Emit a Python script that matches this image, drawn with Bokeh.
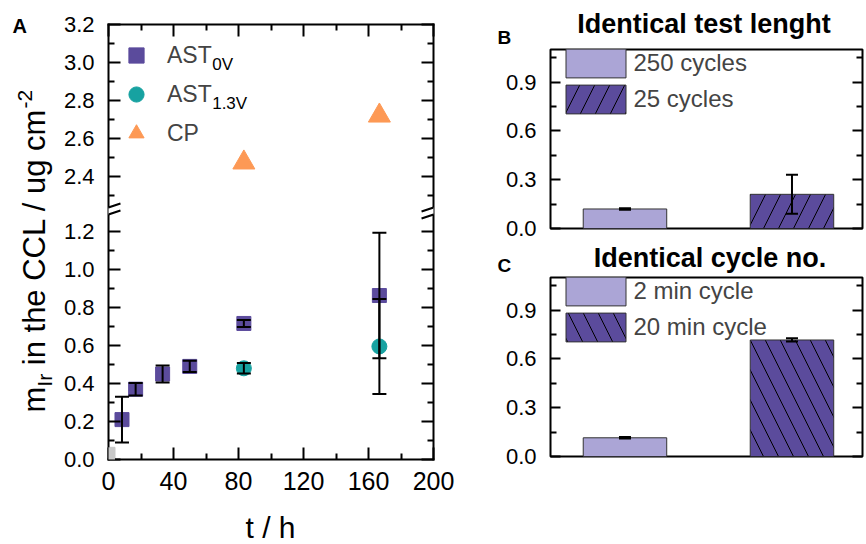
import math
from bokeh.plotting import figure
from bokeh.models import (Range1d, LinearAxis, FixedTicker, CustomJSTickFormatter,
                          PrintfTickFormatter, ColumnDataSource, Whisker, TeeHead, Label,
                          Legend, LegendItem, PolyAnnotation, Arrow)
from bokeh.layouts import row, column
from bokeh.embed import file_html
from bokeh.resources import INLINE

FONT = "Liberation Sans"
PURPLE = "#5B4B9C"
LIGHT = "#ABA5D6"
TEAL = "#17A2A1"
ORANGE = "#FD9955"
GREY = "#C8C8C8"

# ---------------- data: panel A ----------------
t_ast0v = [8.3, 16.7, 33.3, 50.0, 83.3, 166.7]
m_ast0v = [0.21, 0.37, 0.45, 0.49, 0.716, 0.863]
e_ast0v = [0.12, 0.033, 0.045, 0.03, 0.018, 0.33]
t_ast13 = [83.3, 166.7]
m_ast13 = [0.48, 0.595]
e_ast13 = [0.028, 0.25]
t_cp = [83.3, 166.7]
m_cp = [2.473, 2.72]
t_pristine = [0.0]
m_pristine = [0.03]

x_ticks_A = [0, 40, 80, 120, 160, 200]
x_minor_A = [20, 60, 100, 140, 180]
y_ticks_low = [0.0, 0.2, 0.4, 0.6, 0.8, 1.0, 1.2]
y_minor_low = [0.1, 0.3, 0.5, 0.7, 0.9, 1.1]
y_ticks_up = [2.4, 2.6, 2.8, 3.0, 3.2]
y_minor_up = [2.3, 2.5, 2.7, 2.9, 3.1]

# ---------------- data: panels B, C ----------------
b_labels = ["250 cycles", "25 cycles"]
b_values = [0.12, 0.21]
b_errors = [0.005, 0.12]
c_labels = ["2 min cycle", "20 min cycle"]
c_values = [0.115, 0.716]
c_errors = [0.005, 0.01]
bar_ticks = [0.0, 0.3, 0.6, 0.9]
bar_minor = [0.15, 0.45, 0.75, 1.05]

# ---------------- geometry (page pixels) ----------------
W, H = 866, 544
WY = 60            # strip holding the y-axis title
WA = 410           # panel A column
WR = W - WY - WA   # right column
A_L, A_R, A_T, A_B = 107, 433, 24, 459
HA = 502
KY = 190.0
LOW_END = (A_B - A_T) / KY
UP_START = 3.2 - LOW_END
BREAK = 1.31
MID = 0.3465   # label anchor sits this many em above the baseline


def ax_(px):
    return (px - A_L) * 200.0 / (A_R - A_L)


def ay_(py):
    return (A_B - py) / KY


def style_axis(axis, major_in, minor_in, labels=True, font_size="22px", standoff=14, line=False):
    axis.major_tick_in = major_in
    axis.major_tick_out = 0
    axis.minor_tick_in = minor_in
    axis.minor_tick_out = 0
    axis.major_tick_line_width = 2
    axis.minor_tick_line_width = 2
    axis.major_tick_line_color = "black"
    axis.minor_tick_line_color = "black"
    if line:
        axis.axis_line_width = 2
        axis.axis_line_color = "black"
        axis.axis_line_cap = "square"
    else:
        axis.axis_line_color = None
    axis.major_label_text_font = FONT
    axis.major_label_text_color = "black"
    axis.major_label_text_font_size = font_size
    axis.major_label_standoff = standoff
    if not labels:
        axis.formatter = CustomJSTickFormatter(code="return '';")
        axis.major_label_text_font_size = "1px"
        axis.major_label_standoff = 0


def add_label(p, x, y, text, size, bold=False, align="left", angle=0.0):
    p.add_layout(Label(x=x, y=y, text=text, text_font=FONT, text_font_size=f"{size}px",
                       text_font_style="bold" if bold else "normal", text_align=align,
                       text_baseline="alphabetic", angle=angle, text_color="black"))


def text_strip(x0, x1, y0, y1):
    # a blank figure whose frame fills its canvas; data coordinates = page pixels
    p = figure(width=x1 - x0, height=y1 - y0, x_range=Range1d(x0, x1), y_range=Range1d(y1, y0),
               x_axis_type=None, y_axis_type=None, output_backend="svg", toolbar_location=None,
               min_border=0, min_border_left=0, min_border_right=0, min_border_top=0,
               min_border_bottom=0, outline_line_color=None, frame_align=False)
    p.title.visible = False
    return p


def strip_text(p, x, base, text, size, bold=False, align="left"):
    add_label(p, x, base - MID * size, text, size, bold=bold, align=align)


def strip_vtext(p, base_x, y, text, size):
    add_label(p, base_x - MID * size, y, text, size, angle=math.pi / 2)


# ================= y-title strip =================
pY = text_strip(0, WY, 0, H)
strip_text(pY, 12, 32, "A", 20, bold=True)
YB = 45
FS, SS = 31, 21
y0 = 412
strip_vtext(pY, YB, y0, "m", FS)
y0 -= 0.833 * FS
strip_vtext(pY, YB + 6, y0, "Ir", SS)
y0 -= 0.611 * SS + 0.278 * FS
strip_vtext(pY, YB, y0, "in the CCL / ug cm", FS)
y0 -= 8.281 * FS
strip_vtext(pY, YB - 13, y0, "-2", SS)

# ================= Panel A =================
pA = figure(width=WA, height=HA, x_range=Range1d(0, 200), y_range=Range1d(0, LOW_END),
            x_axis_type=None, y_axis_type=None, output_backend="svg", toolbar_location=None,
            min_border_left=A_L - WY, min_border_right=WY + WA - A_R, min_border_top=A_T,
            min_border_bottom=HA - A_B, outline_line_color=None, frame_align=False)
pA.title.visible = False
pA.extra_y_ranges = {"upper": Range1d(UP_START, 3.2)}

xtA = FixedTicker(ticks=x_ticks_A, minor_ticks=x_minor_A)
ytA = FixedTicker(ticks=y_ticks_low + [v - UP_START for v in y_ticks_up],
                  minor_ticks=y_minor_low + [v - UP_START for v in y_minor_up])

axb = LinearAxis(ticker=xtA)
style_axis(axb, 12, 6, font_size="25px", standoff=12, line=True)
pA.add_layout(axb, "below")
axt = LinearAxis(ticker=xtA)
style_axis(axt, 12, 6, labels=False, line=True)
pA.add_layout(axt, "above")
axl = LinearAxis(ticker=ytA, formatter=CustomJSTickFormatter(
    args=dict(off=UP_START, brk=BREAK),
    code="const v = tick > brk ? tick + off : tick; return v.toFixed(1);"))
style_axis(axl, 12, 6, line=True)
pA.add_layout(axl, "left")
axr = LinearAxis(ticker=ytA)
style_axis(axr, 12, 6, labels=False, line=True)
pA.add_layout(axr, "right")

r_grey = pA.scatter(t_pristine, m_pristine, marker="square", size=13,
                    fill_color=GREY, line_color=GREY)
r_sq = pA.scatter(t_ast0v, m_ast0v, marker="square", size=14, fill_color=PURPLE, line_color=PURPLE)
r_ci = pA.scatter(t_ast13, m_ast13, marker="circle", size=15, fill_color=TEAL, line_color=TEAL)
r_tr = pA.scatter(t_cp, m_cp, marker="triangle", size=22, fill_color=ORANGE, line_color=ORANGE,
                  y_range_name="upper")

# the t = 0 point sits on the frame edge: repeat it as an unclipped overlay square
hx = 6.5 * 200.0 / (A_R - A_L)
hy = 6.5 / KY
for t0, m0 in zip(t_pristine, m_pristine):
    pA.add_layout(PolyAnnotation(xs=[t0 - hx, t0 + hx, t0 + hx, t0 - hx],
                                 ys=[m0 - hy, m0 - hy, m0 + hy, m0 + hy],
                                 fill_color=GREY, fill_alpha=1.0, line_color=None,
                                 level="overlay"))


def add_whisker(p, xs, ys, es, head):
    src = ColumnDataSource(dict(x=xs, lo=[y - e for y, e in zip(ys, es)],
                                hi=[y + e for y, e in zip(ys, es)]))
    p.add_layout(Whisker(source=src, base="x", lower="lo", upper="hi", dimension="height",
                         line_width=2, line_color="black", level="annotation",
                         upper_head=TeeHead(size=head, line_width=2, line_color="black"),
                         lower_head=TeeHead(size=head, line_width=2, line_color="black")))


add_whisker(pA, t_ast0v, m_ast0v, e_ast0v, 14)
add_whisker(pA, t_ast13, m_ast13, e_ast13, 14)

legA = Legend(items=[LegendItem(label="AST", renderers=[r_sq]),
                     LegendItem(label="AST", renderers=[r_ci]),
                     LegendItem(label="CP", renderers=[r_tr])],
              location=(9, 307), glyph_width=38, glyph_height=38, spacing=1, padding=0,
              margin=0, label_standoff=12, border_line_color=None, background_fill_alpha=0,
              label_text_font=FONT, label_text_font_size="23px")
pA.add_layout(legA)
add_label(pA, ax_(211), ay_(70 - MID * 17), "0V", 17)
add_label(pA, ax_(211), ay_(109 - MID * 17), "1.3V", 17)

# axis break marks
dxd = 12 * 200.0 / (A_R - A_L)
dyd = 4.0 / KY
y1, y2 = ay_(207), ay_(214)
for X in (0.0, 200.0):
    pA.add_layout(PolyAnnotation(xs=[X - dxd, X + dxd, X + dxd, X - dxd],
                                 ys=[y1 - dyd, y1 + dyd, y2 + dyd, y2 - dyd],
                                 fill_color="white", fill_alpha=1.0, line_color=None,
                                 level="overlay"))
    for yc in (y1, y2):
        pA.add_layout(Arrow(end=None, x_start=X - dxd, y_start=yc - dyd,
                            x_end=X + dxd, y_end=yc + dyd, line_width=2,
                            line_color="black", level="overlay"))

# x-title strip under panel A
pX = text_strip(WY, WY + WA, HA, H)
strip_text(pX, (A_L + A_R) / 2, 537, "t / h", 30, align="center")

# ================= Panels B and C =================
B_L, B_R = 550, 862
PXX = 167.0
X0 = 0.554


def bar_panel(y_top, y_bot, top_px, bottom_px, labels, values, errors, hatch):
    height = y_bot - y_top
    p = figure(width=WR, height=height,
               x_range=Range1d(X0, X0 + (B_R - B_L) / PXX), y_range=Range1d(0, 1.1),
               x_axis_type=None, y_axis_type=None, output_backend="svg",
               toolbar_location=None, min_border_left=B_L - WY - WA, min_border_right=W - B_R,
               min_border_top=top_px - y_top, min_border_bottom=y_bot - bottom_px,
               outline_line_color="black", outline_line_width=2, frame_align=False)
    p.title.visible = False

    tick = FixedTicker(ticks=bar_ticks, minor_ticks=bar_minor)
    la = LinearAxis(ticker=tick, formatter=PrintfTickFormatter(format="%.1f"))
    style_axis(la, 10, 6)
    p.add_layout(la, "left")
    ra = LinearAxis(ticker=tick)
    style_axis(ra, 10, 6, labels=False)
    p.add_layout(ra, "right")

    xs = [i + 1 for i in range(len(labels))]
    src = ColumnDataSource(dict(x=xs, top=values, label=labels, color=[LIGHT, PURPLE],
                                hatch=[" ", hatch]))
    p.vbar(x="x", top="top", width=0.5, source=src, fill_color="color",
           line_color="#333333", line_width=1, hatch_pattern="hatch", hatch_color="black",
           hatch_alpha=1.0, hatch_scale=30, hatch_weight=1, legend_field="label")
    add_whisker(p, xs, values, errors, 12)

    leg = p.legend[0]
    leg.location = (7.5, 110.6)
    leg.glyph_width = 75
    leg.glyph_height = 36
    leg.spacing = -3
    leg.padding = 0
    leg.margin = 0
    leg.label_standoff = 1
    leg.border_line_color = None
    leg.background_fill_alpha = 0
    leg.label_text_font = FONT
    leg.label_text_font_size = "24px"
    return p


XR0 = WY + WA
pBt = text_strip(XR0, W, 0, 48)
strip_text(pBt, 703.5, 33, "Identical test lenght", 27, bold=True, align="center")
strip_text(pBt, 497, 43.5, "B", 19, bold=True)
pB = bar_panel(48, 241, 49, 228, b_labels, b_values, b_errors, "/")
pCt = text_strip(XR0, W, 241, 276)
strip_text(pCt, 709.5, 266.5, "Identical cycle no.", 27, bold=True, align="center")
strip_text(pCt, 497, 271.5, "C", 19, bold=True)
pC = bar_panel(276, H, 277, 456, c_labels, c_values, c_errors, "\\")

layout = row(pY, column(pA, pX), column(pBt, pB, pCt, pC))
open("out.html", "w").write(file_html(layout, INLINE, title="chart"))
